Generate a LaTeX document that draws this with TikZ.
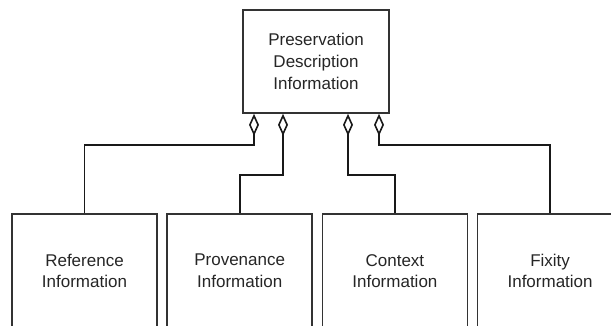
\documentclass[tikz,border=0pt]{standalone}
\usepackage{fontspec}
\newfontfamily\infofont{Liberation Sans}
\usepackage{tikz}
\usetikzlibrary{arrows.meta}
\usetikzlibrary{positioning, calc}
\tikzset{
    infobox/.style = {draw=black!80, line width=1.7pt, fill=white,
        align=center, inner sep=0pt, text=black!85,
        font=\infofont\fontsize{17}{21.7}\selectfont},
    topbox/.style = {infobox, minimum width=146pt, minimum height=103pt},
    partbox/.style = {infobox, minimum width=145pt, minimum height=114pt},
    aggr/.style = {draw=black!90, line width=1.6pt,
        -{Diamond[open, length=22pt, width=10pt, fill=white]}},
}

\begin{document}
\begin{tikzpicture}[x=1pt, y=1pt]
        \useasboundingbox (0,0) rectangle (611,325);
        \clip (0,0) rectangle (611,325);
        % whole and parts
        \node [topbox] (pdi) at (316,263.5) {Preservation\\Description\\Information};
        \node [partbox] (ref) at (84.5,54) {Reference\\Information};
        \node [partbox, right=8.5pt of ref] (prov) {Provenance\\Information};
        \node [partbox, right=8.5pt of prov] (ctx) {Context\\Information};
        \node [partbox, right=8.5pt of ctx] (fix) {Fixity\\Information};
        % aggregation links
        \draw [aggr] (ref.north) -- ++(0,68) -| ([xshift=-62pt]pdi.south);
        \draw [aggr] (prov.north) -- ++(0,38) -| ([xshift=-33pt]pdi.south);
        \draw [aggr] (ctx.north) -- ++(0,38) -| ([xshift=32pt]pdi.south);
        \draw [aggr] (fix.north) -- ++(0,68) -| ([xshift=63pt]pdi.south);
\end{tikzpicture}
\end{document}
